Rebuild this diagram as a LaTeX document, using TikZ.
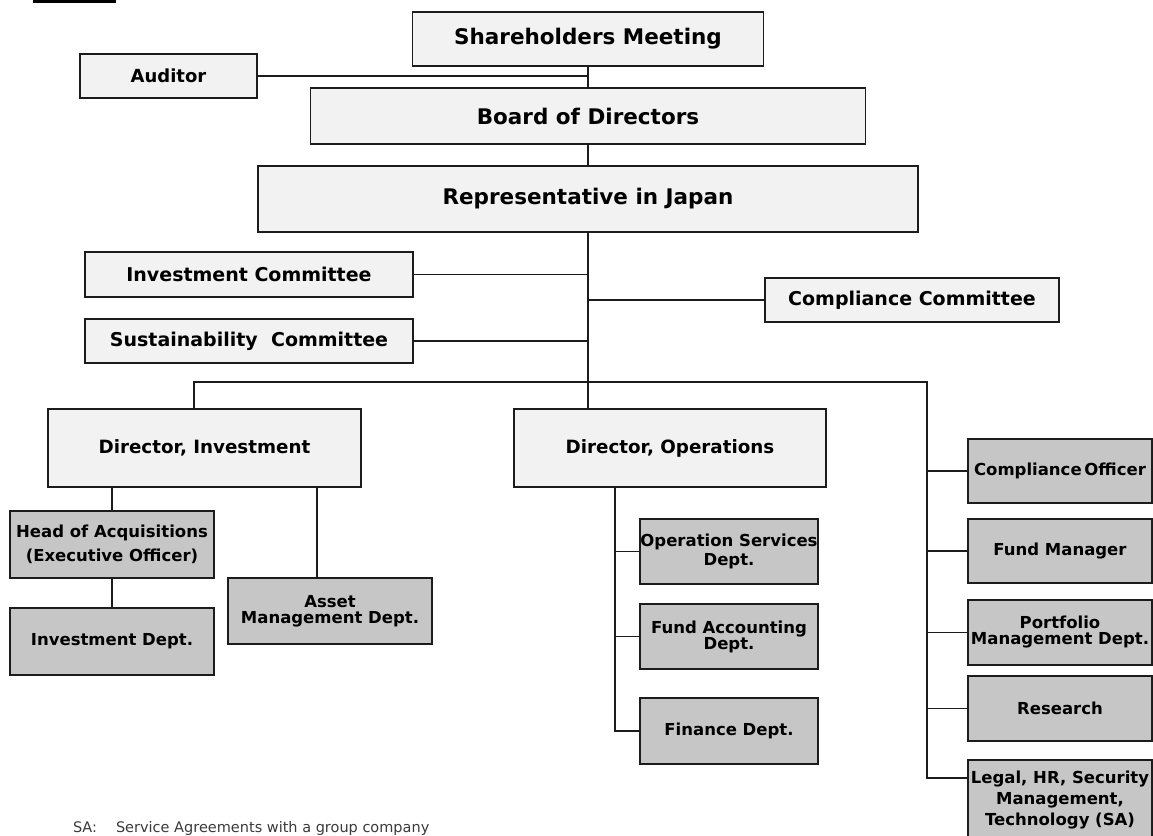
\documentclass[tikz,border=0pt]{standalone}
\usepackage{fontspec}
\setmainfont{DejaVu Sans}
\usetikzlibrary{positioning}
\definecolor{boxlight}{HTML}{F2F2F2}
\definecolor{boxdark}{HTML}{C6C6C6}
\definecolor{edgegray}{HTML}{1C1C1C}
\definecolor{notegray}{HTML}{3A3A3A}
\tikzset{
every node/.style={inner sep=0pt, outer sep=0pt, align=center}, % boxes get their size from minimum width/height
lightbox/.style={draw=edgegray, line width=1.6pt, fill=boxlight}, % upper levels
darkbox/.style={draw=edgegray, line width=1.6pt, fill=boxdark, font=\bfseries\fontsize{16.5}{20}\selectfont}, % departments
toptext/.style={font=\bfseries\fontsize{21.5}{26}\selectfont},
comtext/.style={font=\bfseries\fontsize{19}{23}\selectfont},
dirtext/.style={font=\bfseries\fontsize{18.3}{22}\selectfont},
lskip/.style={font=\bfseries\fontsize{16.5}{#1}\selectfont}, % line spacing of a department box
wire/.style={draw=edgegray, line width=1.5pt},
}

\begin{document}
\begin{tikzpicture}[x=1pt, y=-1pt]
\useasboundingbox (0,0) rectangle (1153,835);
\draw[line width=2.5pt] (33,1.5) -- (116,1.5);

% top of the chart
\node[lightbox, toptext, minimum width=351pt, minimum height=54pt] (share) at (588,39) {Shareholders Meeting};
\node[lightbox, font=\bfseries\fontsize{18}{22}\selectfont, minimum width=177pt, minimum height=44pt] (audit) at (168.5,76) {Auditor};
\node[lightbox, toptext, minimum width=555pt, minimum height=56pt] (board) at (588,116) {Board of Directors};
\node[lightbox, toptext, minimum width=660pt, minimum height=66pt] (rep) at (588,199) {Representative in Japan};

% committees
\node[lightbox, comtext, minimum width=328pt, minimum height=45pt] (invcom) at (249,274.5) {Investment Committee};
\node[lightbox, comtext, minimum width=328pt, minimum height=44pt] (suscom) at (249,341) {Sustainability~ Committee};
\node[lightbox, comtext, minimum width=294pt, minimum height=44pt] (comcom) at (912,300) {Compliance Committee};

% directors
\node[lightbox, dirtext, minimum width=313pt, minimum height=78pt] (dirinv) at (204.5,448) {Director, Investment};
\node[lightbox, dirtext, minimum width=312pt, minimum height=78pt] (dirops) at (670,448) {Director, Operations};

% investment side
\node[darkbox, lskip=24, minimum width=204pt, minimum height=67pt] (headacq) at (112,544.5) {Head of Acquisitions\\(Executive Officer)};
\node[darkbox, minimum width=204pt, minimum height=67pt] (invdept) at (112,641.5) {Investment Dept.};
\node[darkbox, lskip=16, minimum width=204pt, minimum height=66pt] (amgmt) at (330,611) {Asset\\Management Dept.};

% operations side
\node[darkbox, lskip=19, minimum width=178pt, minimum height=65pt] (opsvc) at (729,551.5) {Operation Services\\Dept.};
\node[darkbox, lskip=16, minimum width=178pt, minimum height=65pt] (fundacc) at (729,636.5) {Fund Accounting\\Dept.};
\node[darkbox, minimum width=178pt, minimum height=66pt] (finance) at (729,731) {Finance Dept.};

% right column
\node[darkbox, minimum width=184pt, minimum height=64pt] (cofficer) at (1060,471) {Compliance\,Officer};
\node[darkbox, minimum width=184pt, minimum height=64pt] (fundmgr) at (1060,551) {Fund Manager};
\node[darkbox, lskip=16, minimum width=184pt, minimum height=65pt] (portf) at (1060,632.5) {Portfolio\\Management Dept.};
\node[darkbox, minimum width=184pt, minimum height=65pt] (research) at (1060,708.5) {Research};
\node[darkbox, lskip=21, minimum width=184pt, minimum height=80pt] (legal) at (1060,800) {Legal, HR, Security\\Management,\\Technology (SA)};

\node[anchor=base west, text=notegray, font=\fontsize{14.5}{17}\selectfont] (note) at (73,832) {SA:\hspace{19pt}Service Agreements with a group company};

\coordinate (busL) at (194,382);
\coordinate (busR) at (927,382);
\coordinate (rbot) at (927,778);
\coordinate (amx) at (317,0);
\coordinate (opx) at (615,0);

\draw[wire]
(share.south) -- (board.north)
(audit.east) -- (audit.east -| share.south)
(board.south) -- (rep.north)
(rep.south) -- (rep.south |- dirops.north)
(invcom.east) -- (invcom.east -| rep.south)
(suscom.east) -- (suscom.east -| rep.south)
(comcom.west) -- (comcom.west -| rep.south)
(busL |- dirinv.north) -- (busL) -- (busR) -- (rbot) -- (rbot -| legal.west)

(headacq.north) -- (headacq.north |- dirinv.south)
(headacq.south) -- (invdept.north)
(amx |- dirinv.south) -- (amx |- amgmt.north)

(opx |- dirops.south) -- (opx |- finance.west) -- (finance.west)
(opx |- opsvc.west) -- (opsvc.west)
(opx |- fundacc.west) -- (fundacc.west)

(rbot |- cofficer.west) -- (cofficer.west)
(rbot |- fundmgr.west) -- (fundmgr.west)
(rbot |- portf.west) -- (portf.west)
(rbot |- research.west) -- (research.west)
;
\end{tikzpicture}
\end{document}
